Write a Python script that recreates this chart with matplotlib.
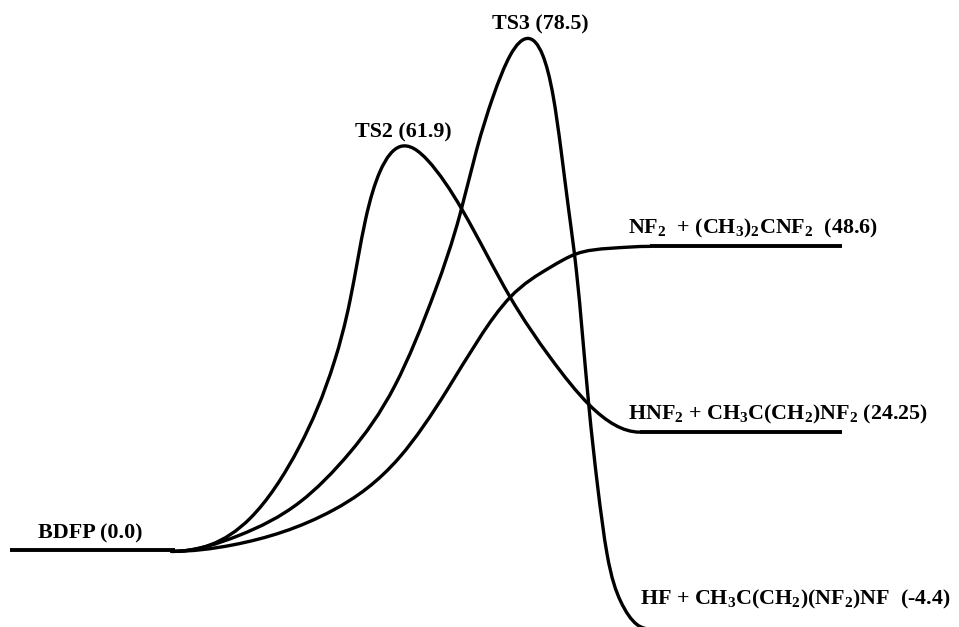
import numpy as np
import matplotlib.pyplot as plt
from matplotlib.path import Path
from matplotlib.patches import PathPatch

plt.rcParams['font.family'] = 'Liberation Serif'
plt.rcParams['font.weight'] = 'bold'
plt.rcParams['mathtext.fontset'] = 'custom'
plt.rcParams['mathtext.rm'] = 'Liberation Serif:bold'
plt.rcParams['mathtext.default'] = 'rm'

# points read along each pathway: reaction coordinate (0-100) and drawn level
ts2_x = [17.9, 26.1, 31.3, 34.9, 36.5, 38.1, 39.6, 41.7, 44.6, 48.2,
         53.2, 57.4, 61.5, 66.7]
ts2_y = [-0.2, 4.9, 16.1, 29.1, 38.3, 50.6, 58.0, 61.9, 59.8, 52.2,
         38.8, 29.5, 22.2, 18.1]

ts3_x = [17.9, 25.0, 31.3, 36.5, 41.2, 45.4, 48.0, 49.7, 51.4, 53.2,
         55.1, 56.6, 57.7, 58.5, 59.3, 60.1, 61.4, 62.3, 63.3, 64.7,
         66.4, 67.8]
ts3_y = [-0.2, 2.3, 7.4, 15.0, 25.3, 39.9, 51.7, 61.4, 69.5, 75.9,
         78.5, 75.9, 69.5, 61.4, 52.2, 42.9, 22.2, 10.0, -0.6, -7.8,
         -11.4, -12.1]

nf2_x = [17.9, 24.3, 34.7, 41.7, 46.6, 53.2, 57.4, 60.0, 63.6, 67.8]
nf2_y = [-0.2, 0.8, 6.1, 14.3, 24.5, 38.8, 43.4, 45.4, 46.3, 46.6]

# flat levels: start, end, drawn level
level_x0 = [1.0, 66.7, 67.8, 67.8]
level_x1 = [18.2, 87.8, 87.8, 87.8]
level_y = [0.0, 18.1, 46.6, -12.1]

labels = ['BDFP (0.0)', 'TS2 (61.9)', 'TS3 (78.5)',
          r'NF$_2$  + (CH$_3$)$_2$CNF$_2$  (48.6)',
          r'HNF$_2$ + CH$_3$C(CH$_2$)NF$_2$ (24.25)',
          r'HF + CH$_3$C(CH$_2$)(NF$_2$)NF  (-4.4)']
label_x = [4.0, 37.0, 51.3, 65.5, 65.5, 66.7]
label_y = [1.8, 63.3, 79.9, 48.6, 20.0, -8.3]


def smooth_path(xs, ys):
    # clamped cubic spline (flat at both ends) written as bezier segments
    x = np.asarray(xs, float)
    y = np.asarray(ys, float)
    n = len(x)
    h = np.diff(x)
    d = np.diff(y) / h
    A = np.zeros((n, n))
    b = np.zeros(n)
    A[0, 0] = A[-1, -1] = 1
    for i in range(1, n - 1):
        A[i, i - 1] = h[i]
        A[i, i] = 2 * (h[i - 1] + h[i])
        A[i, i + 1] = h[i - 1]
        b[i] = 3 * (h[i] * d[i - 1] + h[i - 1] * d[i])
    m = np.linalg.solve(A, b)
    verts = [(x[0], y[0])]
    codes = [Path.MOVETO]
    for i in range(n - 1):
        verts += [(x[i] + h[i] / 3, y[i] + m[i] * h[i] / 3),
                  (x[i + 1] - h[i] / 3, y[i + 1] - m[i + 1] * h[i] / 3),
                  (x[i + 1], y[i + 1])]
        codes += [Path.CURVE4] * 3
    return Path(verts, codes)


fig = plt.figure(figsize=(9.59, 6.27), dpi=100)
ax = fig.add_axes([0, 0, 1, 1])
ax.set_xlim(0, 100)
ax.set_ylim(-11.8, 84.4)
ax.axis('off')

for xs, ys in [(ts2_x, ts2_y), (ts3_x, ts3_y), (nf2_x, nf2_y)]:
    ax.add_patch(PathPatch(smooth_path(xs, ys), fill=False, lw=2.4,
                           color='black', capstyle='round'))

for x0, x1, y in zip(level_x0, level_x1, level_y):
    ax.plot([x0, x1], [y, y], color='black', lw=2.8, solid_capstyle='butt')

for txt, x, y in zip(labels, label_x, label_y):
    ax.text(x, y, txt, fontsize=15.8, fontweight='bold', ha='left', va='baseline')

fig.savefig('out.png', dpi=100)
